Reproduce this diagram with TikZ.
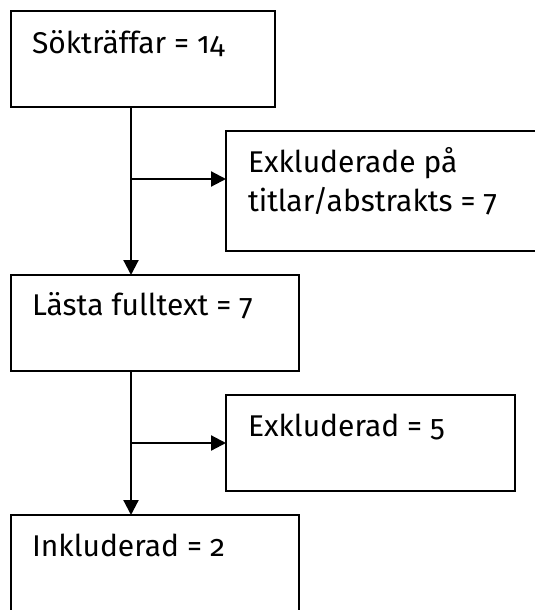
\documentclass[tikz,border=0pt]{standalone}
\usepackage{fontspec}
\setmainfont{Fira Sans}[Numbers=OldStyle]
\usetikzlibrary{arrows.meta}
\begin{document}
\begin{tikzpicture}[x=1pt,y=-1pt,
  boxst/.style={draw=black,line width=2pt,fill=white,inner sep=0pt,outer sep=0pt,anchor=north west},
  txt/.style={inner sep=0pt,outer sep=0pt,anchor=base west,font=\fontsize{30}{38}\selectfont,text=black},
  arr/.style={line width=2.2pt,draw=black,-{Triangle[length=15pt,width=15pt]}}]
\useasboundingbox (0,0) rectangle (535,610);
\clip (0,0) rectangle (535,610);
\fill[white] (0,0) rectangle (535,610);
% boxes
\node[boxst,minimum width=264pt,minimum height=96pt] (box1) at (11,11) {};
\node[boxst,minimum width=340pt,minimum height=120pt] (box2) at (226,131) {};
\node[boxst,minimum width=288pt,minimum height=96pt] (box3) at (11,275) {};
\node[boxst,minimum width=289pt,minimum height=96pt] (box4) at (226,395) {};
\node[boxst,minimum width=288pt,minimum height=120pt] (box5) at (11,515) {};
% texts
\node[txt] (t1) at (32,53) {Sökträffar = 14};
\node[txt] (t2a) at (248,172) {Exkluderade på};
\node[txt] (t2b) at (248,211) {titlar/abstrakts = 7};
\node[txt] (t3) at (32,315) {Lästa fulltext = 7};
\node[txt] (t4) at (248,436) {Exkluderad = 5};
\node[txt] (t5) at (32,556) {Inkluderad = 2};
% connectors
\coordinate (c1) at (131,0);
\coordinate (j1) at (131,179);
\coordinate (j2) at (131,443);
\draw[arr] (c1 |- box1.south) -- (c1 |- box3.north);
\draw[arr] (j1) -- (j1 -| box2.west);
\draw[arr] (c1 |- box3.south) -- (c1 |- box5.north);
\draw[arr] (j2) -- (j2 -| box4.west);
\end{tikzpicture}
\end{document}
